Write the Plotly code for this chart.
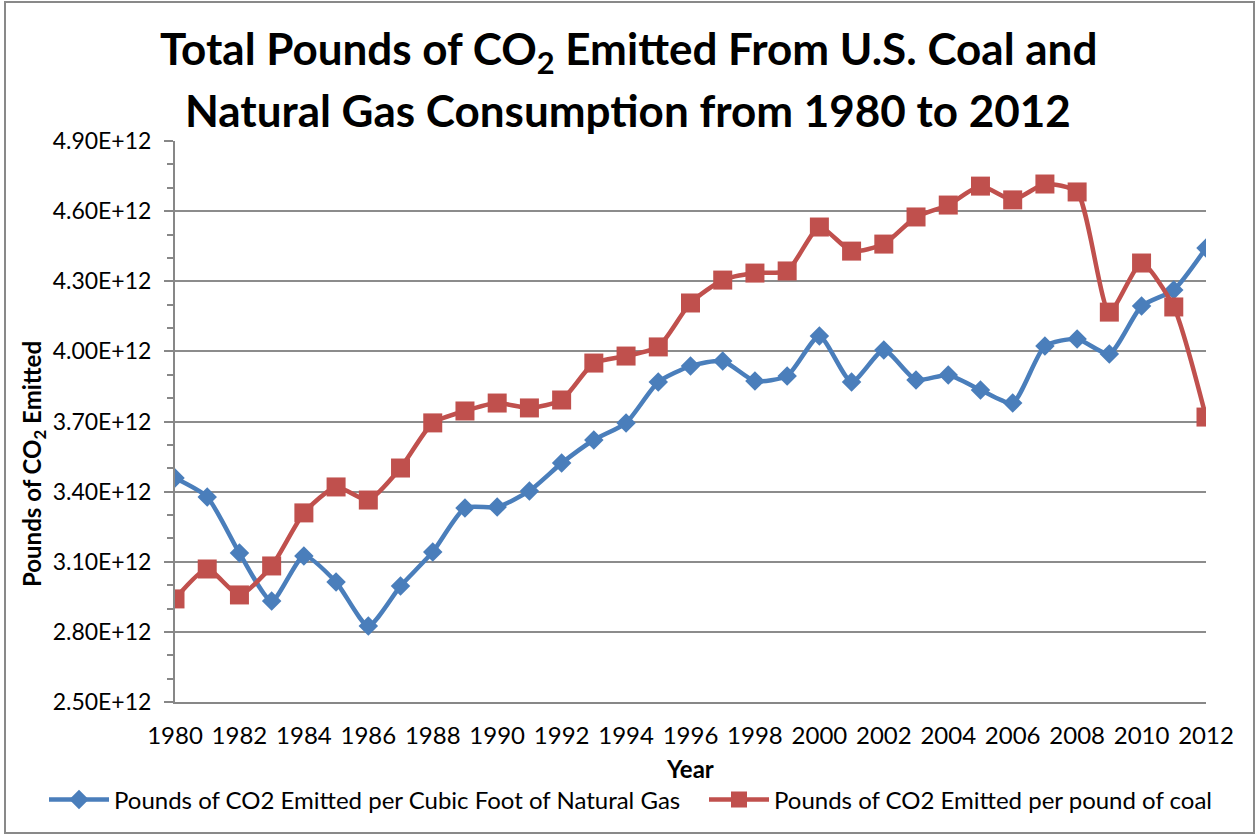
import plotly.graph_objects as go

years = list(range(1980, 2013))
gas = [3.458, 3.377, 3.137, 2.932, 3.125, 3.013, 2.825, 2.996, 3.142, 3.330,
       3.334, 3.403, 3.522, 3.621, 3.694, 3.869, 3.937, 3.959, 3.873, 3.895,
       4.066, 3.869, 4.006, 3.878, 3.899, 3.835, 3.779, 4.023, 4.053, 3.989,
       4.194, 4.263, 4.442]
coal = [2.941, 3.069, 2.958, 3.082, 3.309, 3.420, 3.364, 3.501, 3.694, 3.745,
        3.779, 3.758, 3.792, 3.950, 3.980, 4.019, 4.207, 4.305, 4.335, 4.344,
        4.532, 4.429, 4.459, 4.575, 4.626, 4.707, 4.648, 4.716, 4.682, 4.168,
        4.378, 4.190, 3.719]
gas = [v * 1e12 for v in gas]
coal = [v * 1e12 for v in coal]
y_ticks = [2.5e12, 2.8e12, 3.1e12, 3.4e12, 3.7e12, 4.0e12, 4.3e12, 4.6e12, 4.9e12]
x_ticks = list(range(1980, 2013, 2))

BLUE = "#4A7EBB"
RED = "#C0504D"
AXIS = "#878787"
FONT = "Lato"
FS = 24

W, H = 1259, 834
ml, mr, mt, mb = 175, 53, 141, 132
pw, ph = W - ml - mr, H - mt - mb


def px_x(x):
    return (x - ml) / pw


def px_y(y):
    return 1 - (y - mt) / ph


fig = go.Figure()
fig.add_trace(go.Scatter(
    x=years, y=gas, mode="lines+markers",
    name="Pounds of CO2 Emitted per Cubic Foot of Natural Gas",
    line=dict(color=BLUE, width=4.5, shape="spline", smoothing=0.6),
    marker=dict(symbol="diamond", size=15, color=BLUE),
    legend="legend",
))
fig.add_trace(go.Scatter(
    x=years, y=coal, mode="lines+markers",
    name="Pounds of CO2 Emitted per pound of coal",
    line=dict(color=RED, width=4.5, shape="spline", smoothing=0.6),
    marker=dict(symbol="square", size=19, color=RED),
    legend="legend2",
))

title_lines = ["<b>Total Pounds of CO<sub>2</sub> Emitted From U.S. Coal and</b>",
               "<b>Natural Gas Consumption from 1980 to 2012</b>"]
title_y = [52, 110]

leg = dict(orientation="h", yanchor="middle", xanchor="left", y=px_y(800),
           font=dict(family=FONT, size=FS), itemwidth=60, bgcolor="rgba(0,0,0,0)")

fig.update_layout(
    width=W, height=H,
    margin=dict(l=ml, r=mr, t=mt, b=mb),
    paper_bgcolor="white", plot_bgcolor="white",
    font=dict(family=FONT, size=FS, color="black"),
    showlegend=True,
    legend={**leg, "x": px_x(44)},
    legend2={**leg, "x": px_x(704)},
    annotations=[dict(text=t, x=px_x(628), y=px_y(yy), xref="paper", yref="paper",
                      xanchor="center", yanchor="middle", showarrow=False,
                      font=dict(family=FONT, size=44, color="black"))
                 for t, yy in zip(title_lines, title_y)] + [
        dict(text="<b>Pounds of CO<sub>2</sub> Emitted</b>", textangle=-90,
             x=px_x(33), y=px_y(464), xref="paper", yref="paper",
             xanchor="center", yanchor="middle", showarrow=False,
             font=dict(family=FONT, size=FS)),
        dict(text="<b>Year</b>", x=px_x(690), y=px_y(768), xref="paper", yref="paper",
             xanchor="center", yanchor="middle", showarrow=False,
             font=dict(family=FONT, size=FS)),
    ],
    shapes=[dict(type="rect", xref="paper", yref="paper",
                 x0=px_x(5), x1=px_x(1254), y0=px_y(833), y1=px_y(2),
                 line=dict(color="#898989", width=2))],
)
fig.update_xaxes(
    range=[1980, 2012], tickvals=x_ticks, ticks="", showgrid=False,
    showline=True, linecolor=AXIS, linewidth=2,
    tickfont=dict(size=FS), zeroline=False, ticklabelstandoff=11,
)
fig.update_yaxes(
    range=[2.5e12, 4.9e12], tickmode="array", tickvals=y_ticks,
    ticktext=[f"{v / 1e12:.2f}E+12" for v in y_ticks],
    ticks="outside", ticklen=9, tickcolor=AXIS, tickwidth=2,
    minor=dict(dtick=1e11, tick0=2.5e12, ticks="outside", ticklen=6,
               tickcolor=AXIS, tickwidth=1.5, showgrid=False),
    showgrid=True, gridcolor="#8c8c8c", gridwidth=1.5,
    showline=True, linecolor=AXIS, linewidth=2,
    tickfont=dict(size=23), zeroline=False, ticklabelstandoff=8,
)

fig.write_html("out.html", config={"displayModeBar": False},
               post_script="document.body.style.margin='0';")
